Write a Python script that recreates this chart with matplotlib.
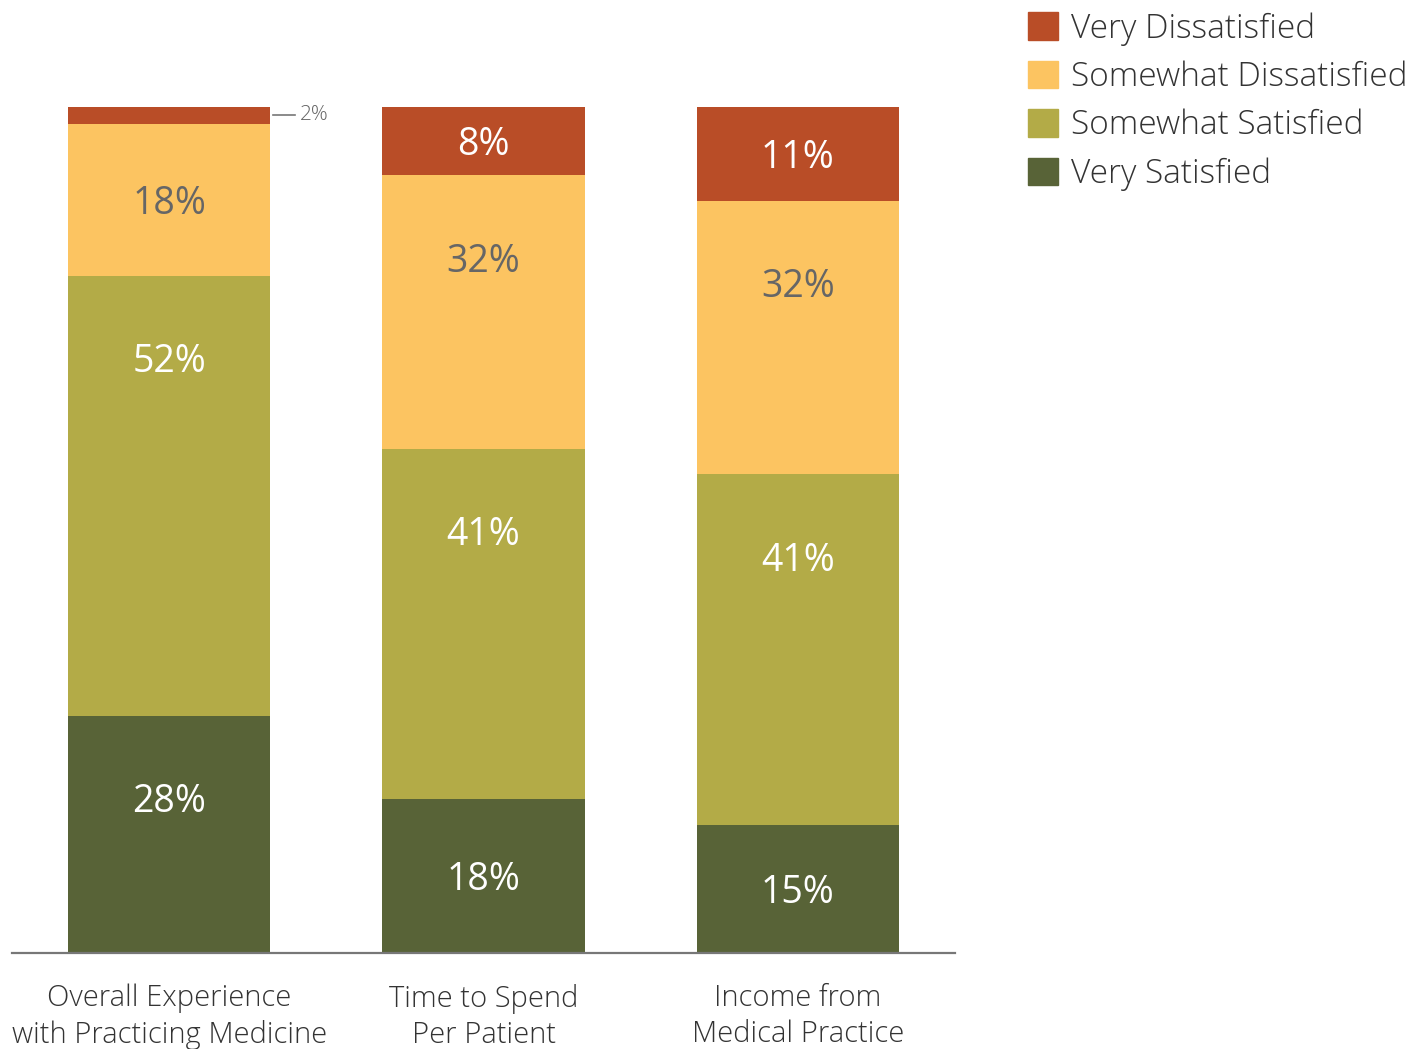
import numpy as np
import matplotlib
matplotlib.use("Agg")
import matplotlib.pyplot as plt
from matplotlib.patches import Patch

# Survey data: share of responses per category (stacked bottom to top)
categories = ["Overall Experience\nwith Practicing Medicine",
              "Time to Spend\nPer Patient",
              "Income from\nMedical Practice"]
series_names = ["Very Satisfied", "Somewhat Satisfied",
                "Somewhat Dissatisfied", "Very Dissatisfied"]
very_satisfied = [28, 18, 15]
somewhat_satisfied = [52, 41, 41]
somewhat_dissatisfied = [18, 32, 32]
very_dissatisfied = [2, 8, 11]

colors = ["#586337", "#B3AB47", "#FCC461", "#B94D27"]
label_colors = ["white", "white", "#666666", "white"]

plt.rcParams["font.family"] = ["Open Sans", "DejaVu Sans"]

fig = plt.figure(figsize=(14.10, 10.49), dpi=100)
ax = fig.add_axes([12 / 1410, 96 / 1049, 943 / 1410, 846 / 1049])

values = np.array([very_satisfied, somewhat_satisfied,
                   somewhat_dissatisfied, very_dissatisfied], dtype=float)
# each bar fills the full height
shares = values / values.sum(axis=0) * 100
x = np.arange(len(categories))
width = 0.643

bottom = np.zeros(len(categories))
for i, name in enumerate(series_names):
    ax.bar(x, shares[i], width, bottom=bottom, color=colors[i],
           label=name, linewidth=0)
    for j in range(len(categories)):
        v = values[i, j]
        seg = shares[i, j]
        top = bottom[j] + seg
        if v < 5:
            # tiny segment: label outside with a leader line
            yc = bottom[j] + seg / 2
            ax.plot([x[j] + width / 2 + 0.01, x[j] + width / 2 + 0.08],
                    [yc, yc], color="#777777", lw=1.2, clip_on=False)
            ax.text(x[j] + width / 2 + 0.093, yc, f"{v:.0f}%",
                    ha="left", va="center", fontsize=15,
                    color="#666666", fontweight="light")
            continue
        if seg > 20:
            yc = top - 10.2
        else:
            yc = bottom[j] + seg / 2 - 0.5
        ax.text(x[j], yc, f"{v:.0f}%", ha="center", va="center",
                fontsize=27, color=label_colors[i])
    bottom += shares[i]

ax.set_xlim(-0.5, 2.5)
ax.set_ylim(0, 100)
ax.set_yticks([])
ax.set_xticks(x)
ax.set_xticklabels(categories, fontsize=21, color="#333333",
                   fontweight="light", linespacing=1.3)
ax.tick_params(axis="x", length=0, pad=22)
for side in ["top", "right", "left"]:
    ax.spines[side].set_visible(False)
ax.spines["bottom"].set_color("#777777")
ax.spines["bottom"].set_linewidth(1.6)

handles = [Patch(color=colors[i], label=series_names[i]) for i in range(3, -1, -1)]
fig.legend(handles=handles, loc="upper left",
           bbox_to_anchor=(1028 / 1410, 1 - 12 / 1049),
           frameon=False, prop={"weight": "light", "size": 24},
           handlelength=0.9, handleheight=0.9, handletextpad=0.4,
           labelspacing=0.45, borderaxespad=0, borderpad=0,
           labelcolor="#333333")

fig.savefig("out.png", dpi=100)
